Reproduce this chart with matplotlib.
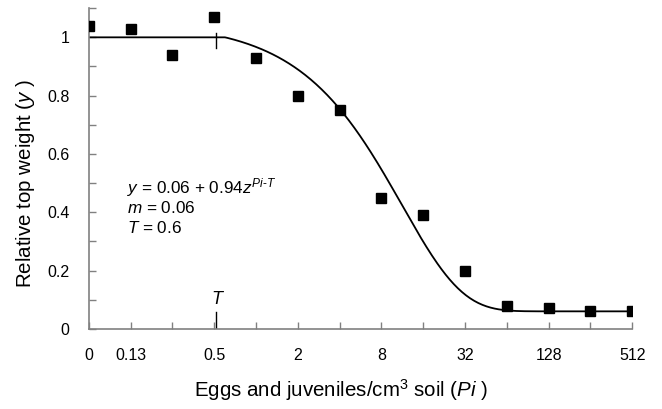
import numpy as np
import matplotlib
matplotlib.use("Agg")
import matplotlib.pyplot as plt
from matplotlib.ticker import FixedLocator, NullFormatter

plt.rcParams["font.family"] = ["Liberation Sans", "DejaVu Sans"]
plt.rcParams["mathtext.fontset"] = "custom"
plt.rcParams["mathtext.rm"] = "Liberation Sans"
plt.rcParams["mathtext.it"] = "Liberation Sans:italic"

# observed data (first point is the "0" control, drawn at 1/16)
pi_values = [0.0625, 0.125, 0.25, 0.5, 1, 2, 4, 8, 16, 32, 64, 128, 256, 512]
rel_weight = [1.04, 1.03, 0.94, 1.07, 0.93, 0.80, 0.75, 0.45, 0.39, 0.20,
              0.08, 0.07, 0.06, 0.06]
tick_pos = [0.0625, 0.125, 0.5, 2, 8, 32, 128, 512]
tick_labels = ["0", "0.13", "0.5", "2", "8", "32", "128", "512"]

# Seinhorst model parameters
m = 0.06
T = 0.6
z = 0.915
t_mark = 0.52  # where the T marker sits on the axis in the original

x_fit = np.logspace(np.log2(0.0625), np.log2(512), 400, base=2)
y_fit = np.where(x_fit <= T, 1.0, m + (1 - m) * z ** (x_fit - T))

fig = plt.figure(figsize=(6.62, 4.09), dpi=100)
ax = fig.add_axes([0.134, 0.196, 0.821, 0.784])

ax.plot(x_fit, y_fit, color="black", lw=1.3, zorder=2)
ax.plot(pi_values, rel_weight, "s", color="black", ms=6.5, zorder=3)

# T markers
ax.plot([t_mark, t_mark], [0, 0.058], color="black", lw=1)
ax.text(t_mark, 0.07, "T", style="italic", ha="center", va="bottom", fontsize=13)
ax.plot([t_mark, t_mark], [0.965, 1.015], color="black", lw=1)

tx = 0.118
ax.text(tx, 0.485, "$y$ = 0.06 + 0.94$z^{Pi\u2010T}$", fontsize=12.3, va="center")
ax.text(tx, 0.415, "$m$ = 0.06", fontsize=12.3, va="center")
ax.text(tx, 0.345, "$T$ = 0.6", fontsize=12.3, va="center")

ax.set_xscale("log", base=2)
ax.set_xlim(0.0625, 512)
ax.set_ylim(0, 1.1)
ax.xaxis.set_major_locator(FixedLocator(tick_pos))
ax.set_xticklabels(tick_labels)
ax.xaxis.set_minor_locator(FixedLocator(pi_values))
ax.xaxis.set_minor_formatter(NullFormatter())
ax.set_yticks([0, 0.2, 0.4, 0.6, 0.8, 1.0])
ax.set_yticklabels(["0", "0.2", "0.4", "0.6", "0.8", "1"])
ax.set_yticks(np.arange(0, 1.11, 0.1), minor=True)

for s in ["top", "right"]:
    ax.spines[s].set_visible(False)
for s in ["left", "bottom"]:
    ax.spines[s].set_color("#808080")
    ax.spines[s].set_linewidth(1.2)

ax.tick_params(which="both", direction="in", color="#808080", length=5,
               labelsize=11.5, width=1)
ax.tick_params(axis="x", pad=14)
ax.tick_params(axis="y", pad=14)

ax.set_xlabel("Eggs and juveniles/cm$^3$ soil ($Pi$ )", fontsize=14.8, labelpad=10)
ax.set_ylabel("Relative top weight ($y$ )", fontsize=14.8, labelpad=7)
ax.xaxis.label.set_x(0.464)
ax.yaxis.label.set_y(0.455)

fig.savefig("out.png", dpi=100)
